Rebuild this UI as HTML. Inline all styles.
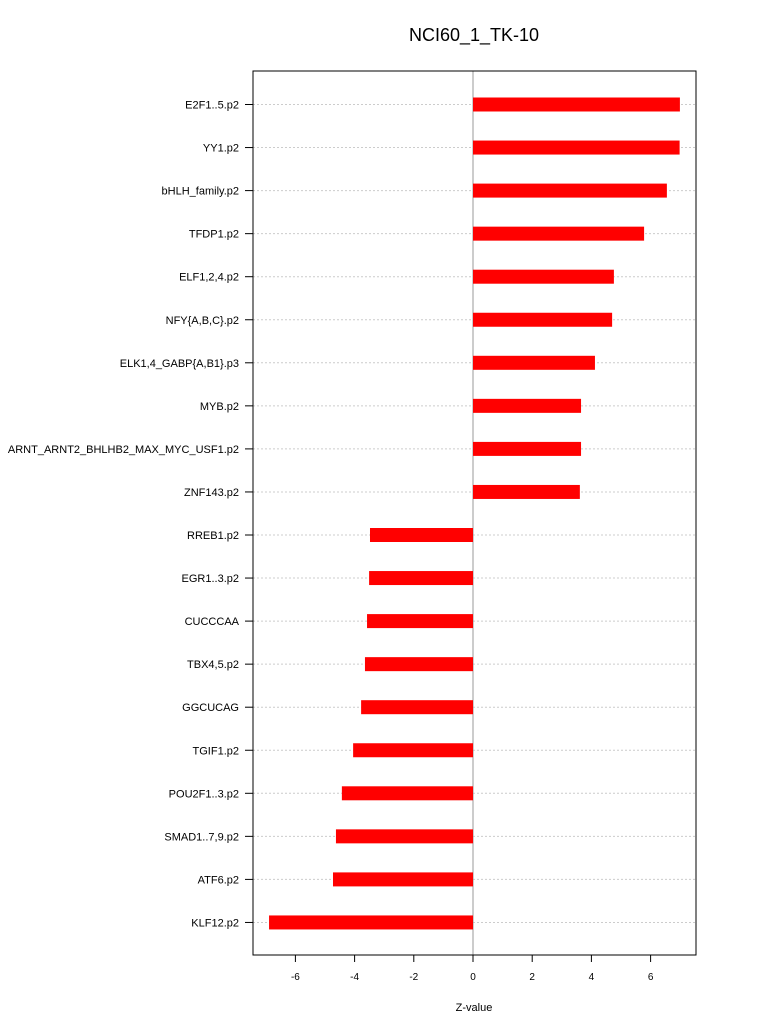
<!DOCTYPE html>
<html><head><meta charset="utf-8"><style>
body{margin:0;background:#fff;}
svg text{font-family:"Liberation Sans",sans-serif;}
</style></head><body>
<svg id="chart" width="768" height="1028" xmlns="http://www.w3.org/2000/svg">
<text x="474" y="41" font-size="18" text-anchor="middle">NCI60_1_TK-10</text>
<text x="474" y="1011" font-size="11" text-anchor="middle">Z-value</text>
<g id="grid"></g><g id="bars"></g><g id="labels"></g><g id="ticks"></g>
<rect x="253" y="71" width="443" height="884" fill="none" stroke="#000" stroke-width="1"/>
</svg>
<script>
const categories=["E2F1..5.p2","YY1.p2","bHLH_family.p2","TFDP1.p2","ELF1,2,4.p2","NFY{A,B,C}.p2","ELK1,4_GABP{A,B1}.p3","MYB.p2","ARNT_ARNT2_BHLHB2_MAX_MYC_USF1.p2","ZNF143.p2","RREB1.p2","EGR1..3.p2","CUCCCAA","TBX4,5.p2","GGCUCAG","TGIF1.p2","POU2F1..3.p2","SMAD1..7,9.p2","ATF6.p2","KLF12.p2"];
const values=[6.99,6.98,6.55,5.78,4.76,4.70,4.12,3.65,3.65,3.61,-3.48,-3.51,-3.58,-3.65,-3.78,-4.05,-4.43,-4.63,-4.73,-6.89];
const tickValues=[-6,-4,-2,0,2,4,6];
const NS="http://www.w3.org/2000/svg";
const x=v=>473+v*29.6;
const y=i=>104.5+i*43.05;
function mk(t,a,p){const e=document.createElementNS(NS,t);for(const k in a)e.setAttribute(k,a[k]);p.appendChild(e);return e;}
const g=document.getElementById('grid'),b=document.getElementById('bars'),l=document.getElementById('labels'),tk=document.getElementById('ticks');
categories.forEach((c,i)=>{
 const gl=mk('line',{x1:253,x2:696,y1:y(i),y2:y(i),stroke:'#ccc','stroke-dasharray':'2,2'},g);
 
 
 const yt=mk('line',{x1:245,x2:253,y1:y(i),y2:y(i),stroke:'#000'},tk);
 
 
 const v=values[i];
 const r=mk('rect',{x:Math.min(x(0),x(v)),y:y(i)-7,width:Math.abs(x(v)-x(0)),height:14,fill:'#ff0000'},b);
 
 
 const t=mk('text',{x:239,y:y(i)+4,'font-size':11,'text-anchor':'end'},l);t.textContent=c;
 
 
});
const z=mk('line',{x1:x(0),x2:x(0),y1:71,y2:955,stroke:'#999'},g);


mk('line',{x1:x(-6),x2:x(6),y1:955,y2:955,stroke:'#000'},tk);
tickValues.forEach(v=>{
 const m=mk('line',{x1:x(v),x2:x(v),y1:955,y2:962,stroke:'#000'},tk);
 
 
 const t=mk('text',{x:x(v),y:980,'font-size':10,'text-anchor':'middle'},tk);t.textContent=v;
 
 
});
</script>
</body></html>
